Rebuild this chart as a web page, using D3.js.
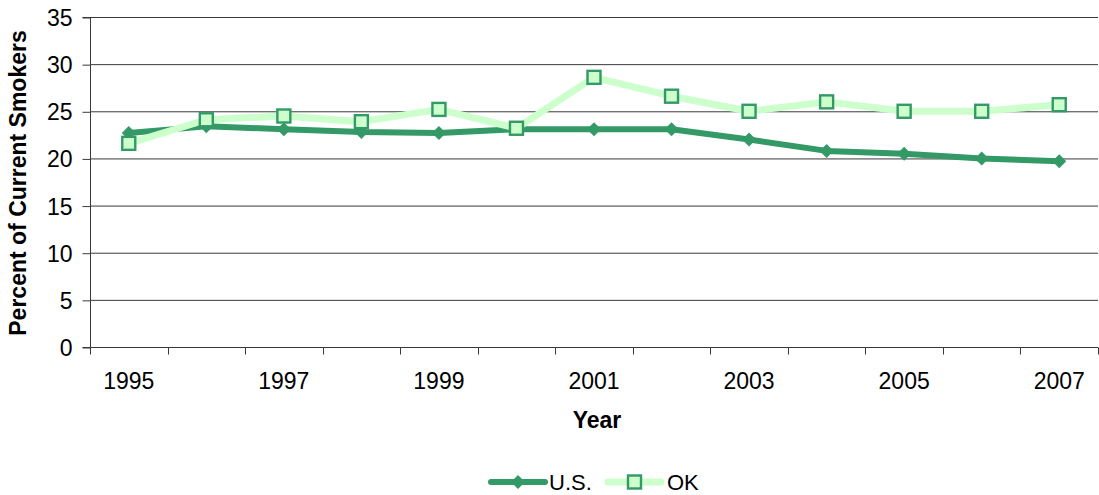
<!DOCTYPE html>
<html><head><meta charset="utf-8">
<script src="https://cdn.jsdelivr.net/npm/d3@7"></script>
<style>body{margin:0;background:#fff}text{font-family:"Liberation Sans",Arial,sans-serif}</style>
</head><body><svg id="c" width="1099" height="495"></svg>
<script>
const years = ["1995","1996","1997","1998","1999","2000","2001","2002","2003","2004","2005","2006","2007"];
const usValues = [22.7,23.4,23.1,22.8,22.7,23.1,23.1,23.1,22.0,20.8,20.5,20.0,19.7];
const okValues = [21.6,24.1,24.5,23.9,25.2,23.2,28.6,26.6,25.0,26.0,25.0,25.0,25.7];
const yTicks = [0,5,10,15,20,25,30,35];
const xLabels = ["1995","1997","1999","2001","2003","2005","2007"];

const svg = d3.select("#c");
const L=90,R=1098,T=17,B=347;
const x = d3.scaleBand().domain(years).range([L,R]);
const y = d3.scaleLinear().domain([0,35]).range([B,T]);
const dark="#339966", light="#CCFFCC", axisC="#3a3a3a";
const FF="Liberation Sans, Arial, sans-serif";

// gridlines
svg.append("g").selectAll("line").data(yTicks.filter(d=>d>0)).join("line")
  .attr("x1",L).attr("x2",R).attr("y1",d=>y(d)+0.5).attr("y2",d=>y(d)+0.5)
  .attr("stroke",axisC).attr("stroke-width",1);

// y axis
const ya = svg.append("g").attr("transform",`translate(${L+0.5},0.5)`)
  .call(d3.axisLeft(y).tickValues(yTicks).tickSize(8).tickPadding(10));
ya.select(".domain").attr("stroke",axisC).attr("d",`M-8,${y(0)}H0V${y(35)}H-8`);
ya.selectAll(".tick line").attr("stroke",axisC);
ya.selectAll("text").attr("font-size",23).attr("fill","#000").attr("font-family",FF).attr("dy","0.35em");

// x axis
const xa = svg.append("g").attr("transform",`translate(0,${B+0.5})`);
xa.append("line").attr("x1",L).attr("x2",R).attr("stroke",axisC);
const bounds = years.map(d=>x(d)).concat([R]);
xa.selectAll(".tk").data(bounds).join("line").attr("class","tk")
  .attr("x1",d=>Math.round(d)+0.5).attr("x2",d=>Math.round(d)+0.5).attr("y1",0).attr("y2",7).attr("stroke",axisC);
xa.selectAll("text").data(xLabels).join("text")
  .attr("x",d=>x(d)+x.bandwidth()/2).attr("y",41).attr("text-anchor","middle")
  .attr("font-size",23).text(d=>d);

// titles
svg.append("text").attr("transform","translate(26,183) rotate(-90)").attr("text-anchor","middle")
  .attr("font-size",23).attr("font-weight","bold").text("Percent of Current Smokers");
svg.append("text").attr("x",597).attr("y",428).attr("text-anchor","middle")
  .attr("font-size",23).attr("font-weight","bold").text("Year");

const cx = d=>x(d)+x.bandwidth()/2;
const line = d3.line().x((d,i)=>cx(years[i])).y(d=>y(d));

// US
svg.append("path").datum(usValues).attr("d",line).attr("fill","none").attr("stroke",dark)
  .attr("stroke-width",6).attr("stroke-linejoin","round");
const diamond = (s)=>`M0,${-s}L${s},0L0,${s}L${-s},0Z`;
svg.append("g").selectAll("path").data(usValues).join("path")
  .attr("transform",(d,i)=>`translate(${cx(years[i])},${y(d)})`).attr("d",diamond(7)).attr("fill",dark);

// OK
svg.append("path").datum(okValues).attr("d",line).attr("fill","none").attr("stroke",light)
  .attr("stroke-width",7).attr("stroke-linejoin","round");
svg.append("g").selectAll("rect").data(okValues).join("rect")
  .attr("x",(d,i)=>cx(years[i])-6.5).attr("y",d=>y(d)-6.5).attr("width",13).attr("height",13)
  .attr("fill",light).attr("stroke",dark).attr("stroke-width",2.4);

// legend
const lg = svg.append("g");
lg.append("line").attr("x1",491).attr("x2",545).attr("y1",482).attr("y2",482).attr("stroke",dark).attr("stroke-width",6).attr("stroke-linecap","round");
lg.append("path").attr("transform","translate(518,482)").attr("d",diamond(7)).attr("fill",dark);
lg.append("text").attr("x",549).attr("y",490).attr("font-size",22).text("U.S.");
lg.append("line").attr("x1",608).attr("x2",661).attr("y1",482).attr("y2",482).attr("stroke",light).attr("stroke-width",7).attr("stroke-linecap","round");
lg.append("rect").attr("x",628).attr("y",475.5).attr("width",13).attr("height",13).attr("fill",light).attr("stroke",dark).attr("stroke-width",2.4);
lg.append("text").attr("x",667).attr("y",490).attr("font-size",22).text("OK");
</script></body></html>
